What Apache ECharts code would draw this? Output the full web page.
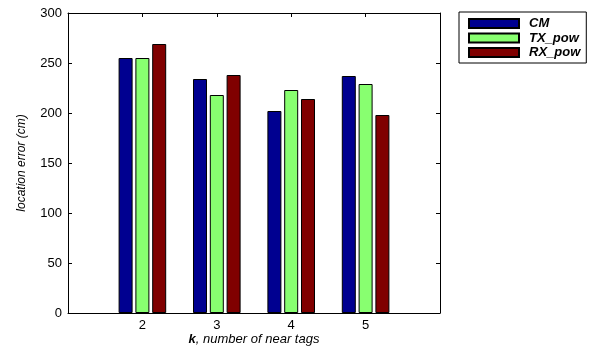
<!DOCTYPE html>
<html><head><meta charset="utf-8">
<script src="https://cdn.jsdelivr.net/npm/echarts@6/dist/echarts.min.js"></script>
<style>html,body{margin:0;padding:0;background:#fff}#c{width:591px;height:347px}</style>
</head><body><div id="c"></div>
<script>
const kValues = [2, 3, 4, 5];
const cm = [255, 234, 202, 237];
const txPow = [255, 218, 223, 229];
const rxPow = [269, 238, 214, 198];
const yTicks = [0, 50, 100, 150, 200, 250, 300];
const seriesNames = ['CM', 'TX_pow', 'RX_pow'];
const colors = ['#000090', '#88FF70', '#800000'];

const font = 'Liberation Sans, Arial, sans-serif';
const chart = echarts.init(document.getElementById('c'), null, {renderer: 'canvas'});
const pair = arr => kValues.map((k, i) => [k, arr[i]]);
const mkSeries = (name, arr, i) => ({
  name, type: 'bar', data: pair(arr), barWidth: 14, barGap: '20%',
  itemStyle: {color: colors[i], borderColor: '#000', borderWidth: 1},
  emphasis: {disabled: true}, animation: false
});
const baseAxisLine = {show: true, onZero: false, lineStyle: {color: '#000', width: 1}};
chart.setOption({
  animation: false,
  grid: {left: 68, right: 151, top: 13, bottom: 34, containLabel: false, outerBoundsMode: 'none'},
  legend: {
    orient: 'vertical', left: 459, top: 12, data: seriesNames,
    icon: 'rect',
    itemWidth: 50, itemHeight: 9, itemGap: 1.5,
    padding: [5, 6, 4, 9], borderColor: '#000', borderWidth: 1,
    backgroundColor: '#fff',
    textStyle: {fontFamily: font, fontSize: 13, fontWeight: 'bold', fontStyle: 'italic', color: '#000', lineHeight: 13, padding: [0, 0, 0, 5]},
    selectedMode: false
  },
  xAxis: [{
    type: 'value', min: 1, max: 6, interval: 1, position: 'bottom',
    axisLine: baseAxisLine, splitLine: {show: false},
    axisTick: {inside: true, length: 4, lineStyle: {color: '#000'}},
    axisLabel: {color: '#000', fontFamily: font, fontSize: 13, margin: 6,
      formatter: v => kValues.includes(v) ? String(v) : ''},
    name: '{b|k}, number of near tags', nameLocation: 'middle', nameGap: 20, nameMoveOverlap: false,
    nameTextStyle: {fontFamily: font, fontSize: 13, fontStyle: 'italic', color: '#000',
      rich: {b: {fontFamily: font, fontSize: 13, fontStyle: 'italic', fontWeight: 'bold', color: '#000'}}}
  }, {
    type: 'value', min: 1, max: 6, interval: 1, position: 'top',
    axisLine: baseAxisLine, splitLine: {show: false},
    axisTick: {inside: true, length: 4, lineStyle: {color: '#000'}},
    axisLabel: {show: false}
  }],
  yAxis: [{
    type: 'value', min: 0, max: 300, interval: 50, position: 'left',
    axisLine: baseAxisLine, splitLine: {show: false},
    axisTick: {inside: true, length: 4, lineStyle: {color: '#000'}},
    axisLabel: {color: '#000', fontFamily: font, fontSize: 13, margin: 6,
      formatter: v => yTicks.includes(v) ? String(v) : ''},
    name: 'location error (cm)', nameLocation: 'middle', nameGap: 40, nameMoveOverlap: false,
    nameTextStyle: {fontFamily: font, fontSize: 12, fontStyle: 'italic', color: '#000'}
  }, {
    type: 'value', min: 0, max: 300, interval: 50, position: 'right',
    axisLine: baseAxisLine, splitLine: {show: false},
    axisTick: {inside: true, length: 4, lineStyle: {color: '#000'}},
    axisLabel: {show: false}
  }],
  series: [mkSeries('CM', cm, 0), mkSeries('TX_pow', txPow, 1), mkSeries('RX_pow', rxPow, 2)]
});
</script></body></html>
